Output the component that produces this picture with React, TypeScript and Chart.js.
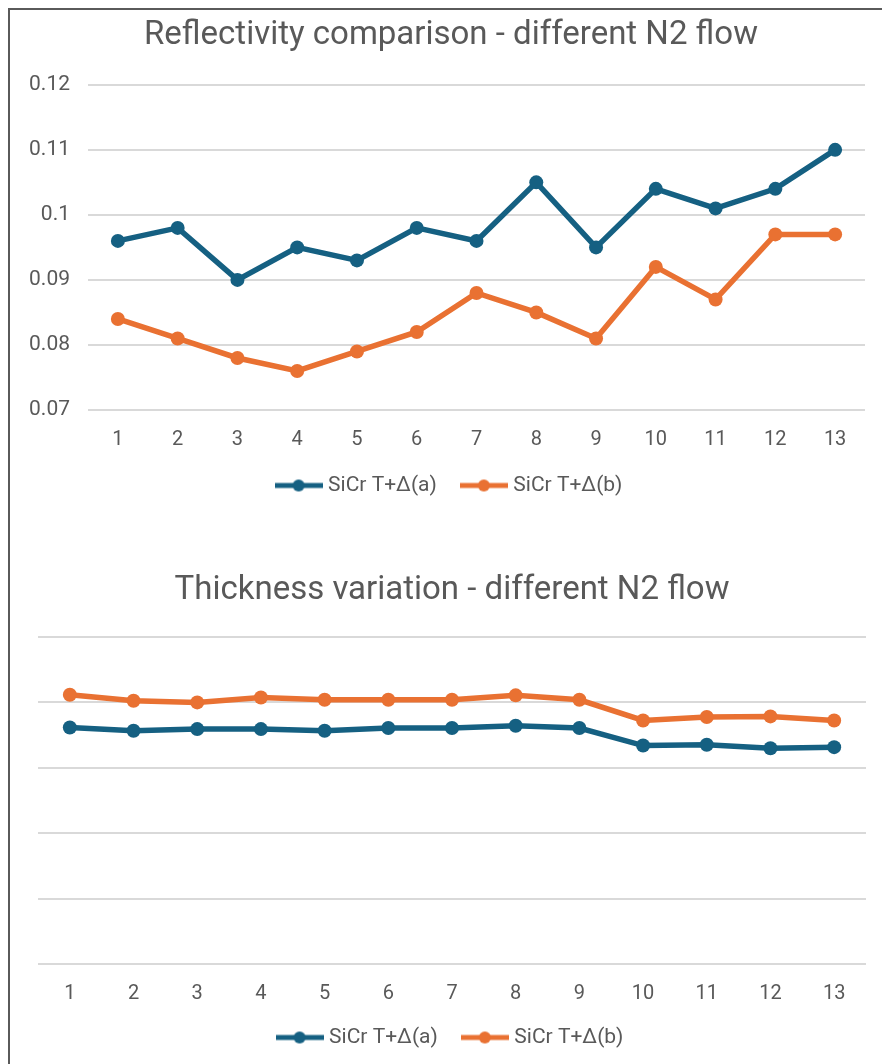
import { useEffect, useRef } from "react";
import { Chart, registerables } from "chart.js";

Chart.register(...registerables);

// Measurement runs along the x axis
const runs = ["1", "2", "3", "4", "5", "6", "7", "8", "9", "10", "11", "12", "13"];

// Reflectivity per run
const reflectivityA = [0.096, 0.098, 0.09, 0.095, 0.093, 0.098, 0.096, 0.105, 0.095, 0.104, 0.101, 0.104, 0.11];
const reflectivityB = [0.084, 0.081, 0.078, 0.076, 0.079, 0.082, 0.088, 0.085, 0.081, 0.092, 0.087, 0.097, 0.097];

// Thickness per run
const thicknessA = [180.8, 178.3, 179.6, 179.6, 178.3, 180.4, 180.4, 182.1, 180.4, 167.0, 167.6, 165.0, 165.8];
const thicknessB = [205.9, 201.3, 200.0, 203.8, 202.0, 202.0, 202.0, 205.4, 202.0, 186.2, 188.8, 189.3, 186.2];

const seriesNames = ["SiCr T+\u0394(a)", "SiCr T+\u0394(b)"];

const BLUE = "#156082";
const ORANGE = "#E97132";
const TEXT = "#595959";
const GRID = "#d9d9d9";
const FONT = "Roboto, 'Open Sans', sans-serif";

// Legend swatch: a short thick line with a dot in the middle
function legendSwatch(color: string): HTMLCanvasElement {
  const c = document.createElement("canvas");
  c.width = 48;
  c.height = 14;
  const g = c.getContext("2d")!;
  g.strokeStyle = color;
  g.lineWidth = 5;
  g.beginPath();
  g.moveTo(0, 7);
  g.lineTo(48, 7);
  g.stroke();
  g.fillStyle = color;
  g.beginPath();
  g.arc(24, 7, 6, 0, Math.PI * 2);
  g.fill();
  return c;
}

type PanelProps = {
  title: string;
  a: number[];
  b: number[];
  yMin: number;
  yMax: number;
  yStep: number;
  showYTicks: boolean;
  yAxisWidth: number;
  rightGutter: number;
  xAxisHeight: number;
  padLeft: number;
  padRight: number;
  titleTop: number;
  titleBottom: number;
  height: number;
};

function LinePanel(p: PanelProps) {
  const ref = useRef<HTMLCanvasElement | null>(null);

  useEffect(() => {
    if (!ref.current) return;
    const swatches = [legendSwatch(BLUE), legendSwatch(ORANGE)];
    const colors = [BLUE, ORANGE];
    const scales: any = {
      x: {
        offset: true,
        grid: { display: false, drawTicks: false },
        border: { display: false },
        ticks: {
          color: TEXT,
          font: { family: FONT, size: 20 },
          padding: 18,
          maxRotation: 0,
        },
        afterFit: (s: any) => {
          s.height = p.xAxisHeight;
        },
      },
      y: {
        min: p.yMin,
        max: p.yMax,
        grid: { color: GRID, lineWidth: 2, drawTicks: false },
        border: { display: false },
        ticks: {
          display: p.showYTicks,
          stepSize: p.yStep,
          color: TEXT,
          font: { family: FONT, size: 21 },
          padding: 18,
          callback: (v: any) => String(Number(Number(v).toFixed(3))),
        },
        afterFit: (s: any) => {
          s.width = p.yAxisWidth;
        },
      },
    };
    if (p.rightGutter > 0) {
      // empty right-hand gutter so the title and legend sit centred over the page
      scales.gutter = {
        type: "linear",
        position: "right",
        grid: { display: false, drawTicks: false },
        border: { display: false },
        ticks: { display: false },
        afterFit: (s: any) => {
          s.width = p.rightGutter;
        },
      };
    }
    const chart = new Chart(ref.current, {
      type: "line",
      data: {
        labels: runs,
        datasets: [p.a, p.b].map((values, i) => ({
          label: seriesNames[i],
          data: values,
          yAxisID: "y",
          borderColor: colors[i],
          backgroundColor: colors[i],
          borderWidth: 5.5,
          pointRadius: 7,
          pointBorderWidth: 0,
          pointBackgroundColor: colors[i],
          tension: 0,
        })),
      },
      options: {
        animation: false,
        responsive: true,
        maintainAspectRatio: false,
        layout: { padding: { left: p.padLeft, right: p.padRight, top: 0, bottom: 29 } },
        plugins: {
          title: {
            display: true,
            text: p.title,
            color: TEXT,
            font: { family: FONT, size: 33, weight: "normal" },
            padding: { top: p.titleTop, bottom: p.titleBottom },
          },
          legend: {
            position: "bottom",
            labels: {
              usePointStyle: true,
              pointStyleWidth: 38,
              padding: 28,
              color: TEXT,
              font: { family: FONT, size: 21 },
              generateLabels: (c: Chart) =>
                c.data.datasets.map((ds: any, i: number) => ({
                  text: ds.label,
                  pointStyle: swatches[i],
                  fillStyle: colors[i],
                  strokeStyle: colors[i],
                  fontColor: TEXT,
                  lineWidth: 0,
                  hidden: false,
                  datasetIndex: i,
                })),
            },
          },
          tooltip: { enabled: false },
        },
        scales,
      },
    } as any);
    return () => chart.destroy();
  }, []);

  return (
    <div style={{ position: "relative", height: p.height, width: "100%" }}>
      <canvas ref={ref} />
    </div>
  );
}

export default function App() {
  return (
    <div
      style={{
        width: 880,
        height: 1100,
        border: "2px solid #5a5a5a",
        boxSizing: "border-box",
        background: "#ffffff",
        overflow: "hidden",
      }}
    >
      <LinePanel
        title="Reflectivity comparison - different N2 flow"
        a={reflectivityA}
        b={reflectivityB}
        yMin={0.07}
        yMax={0.12}
        yStep={0.01}
        showYTicks={true}
        yAxisWidth={68}
        rightGutter={17}
        xAxisHeight={37}
        padLeft={10}
        padRight={4}
        titleTop={6.2}
        titleBottom={29}
        height={525}
      />
      <LinePanel
        title="Thickness variation - different N2 flow"
        a={thicknessA}
        b={thicknessB}
        yMin={0}
        yMax={250}
        yStep={50}
        showYTicks={false}
        yAxisWidth={0}
        rightGutter={0}
        xAxisHeight={35}
        padLeft={28}
        padRight={20}
        titleTop={36.2}
        titleBottom={26.2}
        height={552}
      />
    </div>
  );
}
